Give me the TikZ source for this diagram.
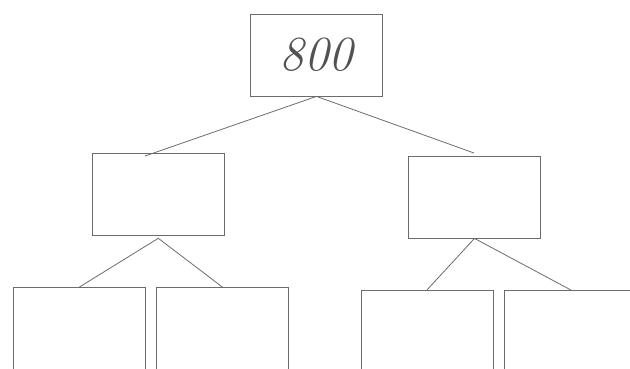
\documentclass[tikz,border=0pt]{standalone}
\begin{document}
\begin{tikzpicture}[x=1pt,y=-1pt,
        box/.style={draw=black!58, line width=0.8pt, minimum width=132pt, minimum height=82pt, inner sep=0pt},
        edge/.style={draw=black!58, line width=0.8pt}]
            \clip (0,0) rectangle (630,368);

            \node[box] (top) at (316.5,55) {\fontsize{49}{49}\selectfont\itshape\color{black!68}800};

            \node[box] (lmid) at (158.5,194.5) {};
            \node[box] (rmid) at (474.5,197) {};

            \node[box] (lleft) at (79,328.7) {};
            \node[box] (lright) at (222.7,328.7) {};
            \node[box] (rleft) at (427,331.3) {};
            \node[box] (rright) at (570.7,331.3) {};

            \coordinate (ltip) at (145,156);
            \coordinate (rtip) at (474,153);
            \coordinate (lfork) at (158.3,238.3);

            \draw[edge] (ltip) -- (top.south) -- (rtip);
            \draw[edge] (lleft.north) -- (lfork) -- (lright.north);
            \draw[edge] (rleft.north) -- (rmid.south) -- (rright.north);
        \end{tikzpicture}
\end{document}
